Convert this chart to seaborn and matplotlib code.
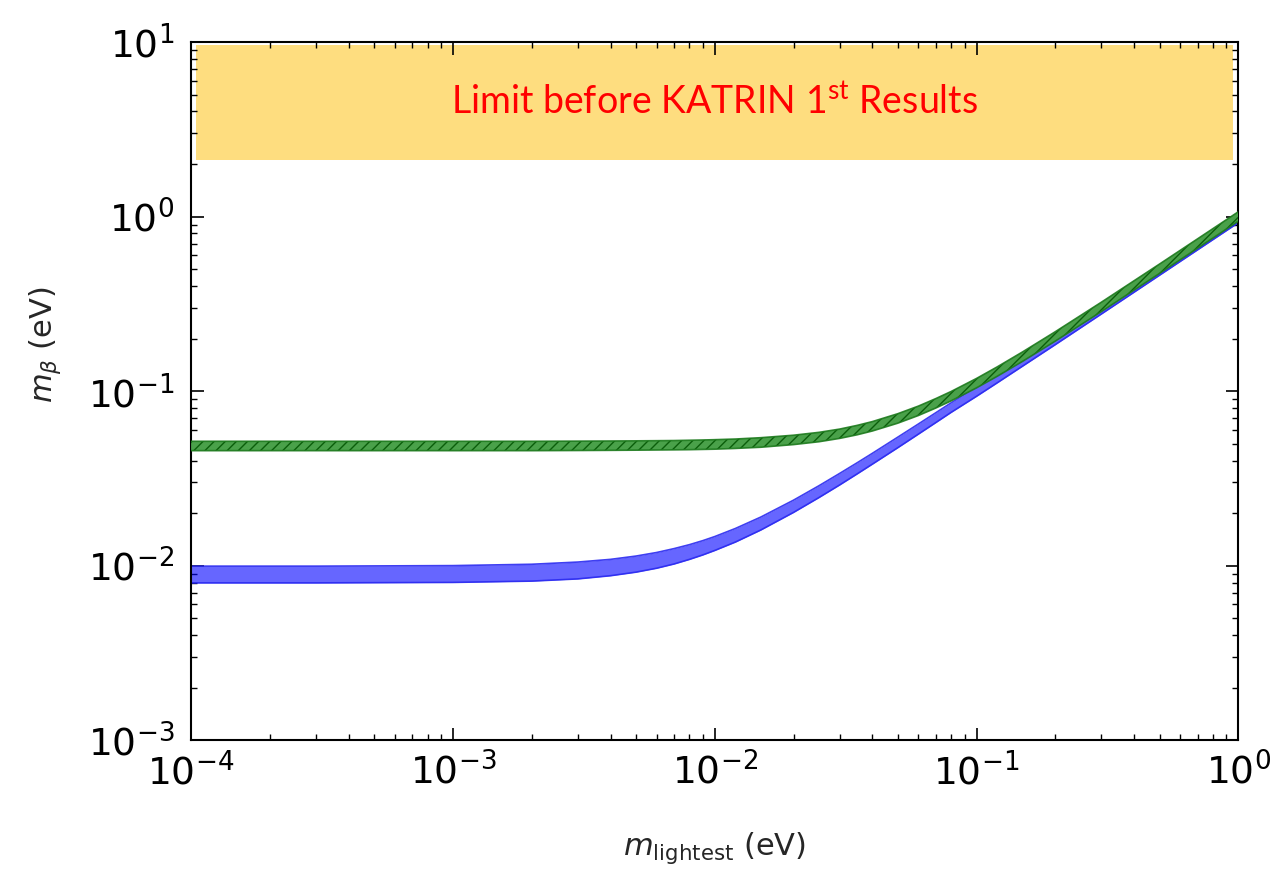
import matplotlib
matplotlib.use("Agg")
import numpy as np
import pandas as pd
import matplotlib.pyplot as plt
import seaborn as sns

# Lightest neutrino mass (eV) sampled along the bands
m_lightest = [1e-4, 3e-4, 1e-3, 2e-3, 3e-3, 4e-3, 5e-3, 6e-3, 7e-3, 8e-3,
              9e-3, 1e-2, 1.2e-2, 1.5e-2, 2e-2, 2.5e-2, 3e-2, 3.5e-2, 4e-2, 5e-2,
              6e-2, 7e-2, 8e-2, 0.1, 0.12, 0.15, 0.2, 0.3, 0.5, 0.7, 1.0]

# Normal ordering band (lower / upper edge of m_beta, eV)
normal_low = [0.00797, 0.00797, 0.00802, 0.00816, 0.00840, 0.00876, 0.00918, 0.00967,
              0.01023, 0.01086, 0.01152, 0.01222, 0.01366, 0.01601, 0.02019, 0.02455,
              0.02900, 0.03356, 0.03816, 0.04738, 0.05674, 0.06613, 0.07558, 0.0934,
              0.1116, 0.1391, 0.1847, 0.2767, 0.4612, 0.6457, 0.9224]
normal_high = [0.00994, 0.00994, 0.01001, 0.01019, 0.01049, 0.01087, 0.01135, 0.01190,
               0.01253, 0.01319, 0.01391, 0.01468, 0.01634, 0.01899, 0.02373, 0.02869,
               0.03376, 0.03886, 0.04401, 0.05445, 0.06485, 0.07529, 0.08572, 0.1058,
               0.1259, 0.1560, 0.2063, 0.3092, 0.5153, 0.7214, 1.0306]

# Inverted ordering band (lower / upper edge of m_beta, eV)
inverted_low = [0.0456, 0.0456, 0.0456, 0.0456, 0.0457, 0.0458, 0.0459, 0.0460,
                0.0461, 0.0462, 0.04636, 0.0465, 0.04696, 0.0477, 0.0494, 0.05129,
                0.0536, 0.05622, 0.0591, 0.0655, 0.07252, 0.0801, 0.08794, 0.1044,
                0.12166, 0.1482, 0.1935, 0.2857, 0.4722, 0.6596, 0.9411]
inverted_high = [0.0516, 0.0516, 0.0516, 0.0516, 0.0517, 0.0518, 0.0519, 0.0520,
                 0.0521, 0.0523, 0.05249, 0.0527, 0.05316, 0.0541, 0.0559, 0.05805,
                 0.0606, 0.06364, 0.0669, 0.0742, 0.08209, 0.0907, 0.09954, 0.1182,
                 0.13771, 0.1678, 0.2190, 0.3233, 0.5344, 0.7466, 1.0653]

# Excluded region prior to the first KATRIN result (eV)
limit_low, limit_high = 2.1, 9.6
limit_text = r"Limit before KATRIN 1$^{\mathrm{st}}$ Results"

sns.set_theme(style="ticks")
plt.rcParams["font.family"] = ["DejaVu Sans"]
plt.rcParams.update({
    "mathtext.fontset": "dejavusans",
    "mathtext.rm": "Lato",
    "mathtext.it": "Lato:italic",
    "mathtext.bf": "Lato:bold",
    "hatch.linewidth": 1.0,
    "hatch.color": "#0b5e0b",
})

fig = plt.figure(figsize=(12.74, 8.75), dpi=100)
ax = fig.add_axes([0.150, 0.154, 0.822, 0.798])
ax.set_xscale("log")
ax.set_yscale("log")

# Long-form table of band edges for seaborn
rows = []
for name, lo, hi in [("normal", normal_low, normal_high),
                     ("inverted", inverted_low, inverted_high)]:
    for edge, vals in [("low", lo), ("high", hi)]:
        for x, y in zip(m_lightest, vals):
            rows.append({"m_lightest": x, "m_beta": y,
                         "ordering": name, "edge": f"{name}-{edge}"})
edges = pd.DataFrame(rows)

ax.axhspan(limit_low, limit_high, xmin=0.005, xmax=0.995,
           color="#FEDD7F", lw=0, zorder=0.5)

# Normal ordering band
ax.fill_between(m_lightest, normal_low, normal_high, facecolor="blue",
                alpha=0.6, lw=0, zorder=2)
sns.lineplot(data=edges[edges["ordering"] == "normal"], x="m_lightest", y="m_beta",
             units="edge", estimator=None, color="#2a2af0", lw=1.2, alpha=0.9,
             ax=ax, zorder=2.1, legend=False)

# Inverted ordering band (hatched)
ax.fill_between(m_lightest, inverted_low, inverted_high, facecolor="#4aa14a",
                edgecolor="#0b5e0b", hatch="///", lw=0, zorder=3)
sns.lineplot(data=edges[edges["ordering"] == "inverted"], x="m_lightest", y="m_beta",
             units="edge", estimator=None, color="#1d7a1d", lw=1.2, alpha=0.9,
             ax=ax, zorder=3.1, legend=False)

ax.set_xlim(1e-4, 1.0)
ax.set_ylim(1e-3, 10.0)

ax.text(0.5, 0.9126, limit_text, transform=ax.transAxes, ha="center", va="center",
        color="#FF0000", fontsize=27, fontfamily="Lato", math_fontfamily="custom",
        zorder=4)

ax.set_xlabel(r"$m_{\mathrm{lightest}}$ (eV)", fontsize=22)
ax.set_ylabel(r"$m_\beta$ (eV)", fontsize=22)
ax.xaxis.set_label_coords(0.5, -0.128)
ax.yaxis.set_label_coords(-0.122, 0.566)

for s in ax.spines.values():
    s.set_visible(True)
    s.set_linewidth(1.5)
    s.set_color("black")
ax.tick_params(which="both", direction="in", top=True, right=True, colors="black")
ax.tick_params(which="major", length=9, width=1.2, labelsize=27)
ax.tick_params(which="minor", length=4.5, width=1.0)
ax.tick_params(axis="x", which="major", pad=9)
ax.tick_params(axis="y", which="major", pad=12)
ax.grid(False)

fig.savefig("out.png", dpi=100, facecolor="white")
